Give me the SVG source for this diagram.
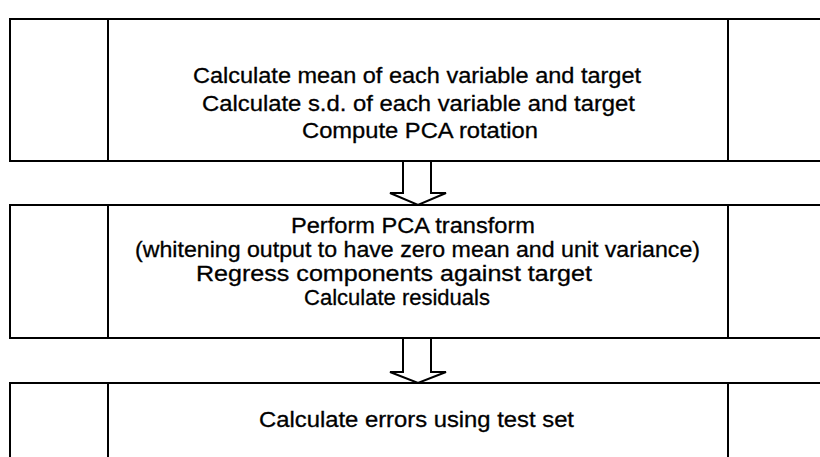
<svg xmlns="http://www.w3.org/2000/svg" width="820" height="457" viewBox="0 0 820 457">
<style>
.box{fill:#fff;stroke:#000;stroke-width:2}
.div{stroke:#000;stroke-width:2}
.t{font-family:"Liberation Sans Narrow","Liberation Sans",Arial,sans-serif;font-size:22px;fill:#000;stroke:#000;stroke-width:0.3}
.arr{fill:#fff;stroke:#000;stroke-width:2;stroke-linejoin:miter}
</style>
<rect width="820" height="457" fill="#fff"/>
<g id="connectors">
<path class="arr" d="M403,161 V193 H390 L418,205 L446,193 H431 V161"/>
<path class="arr" d="M403,338 V372 H390 L418,383 L446,372 H431 V338"/>
</g>
<g id="node1">
<rect class="box" x="10" y="19" width="830" height="142"/>
<line class="div" x1="108" y1="19" x2="108" y2="161"/>
<line class="div" x1="728" y1="19" x2="728" y2="161"/>
<text class="t" x="193" y="83" textLength="448" lengthAdjust="spacingAndGlyphs">Calculate mean of each variable and target</text>
<text class="t" x="202" y="111" textLength="433" lengthAdjust="spacingAndGlyphs">Calculate s.d. of each variable and target</text>
<text class="t" x="302" y="138" textLength="236" lengthAdjust="spacingAndGlyphs">Compute PCA rotation</text>
</g>
<g id="node2">
<rect class="box" x="10" y="205" width="830" height="133"/>
<line class="div" x1="108" y1="205" x2="108" y2="338"/>
<line class="div" x1="728" y1="205" x2="728" y2="338"/>
<text class="t" x="291" y="233" textLength="244" lengthAdjust="spacingAndGlyphs">Perform PCA transform</text>
<text class="t" x="135" y="257" textLength="565" lengthAdjust="spacingAndGlyphs">(whitening output to have zero mean and unit variance)</text>
<text class="t" x="196" y="281" textLength="396" lengthAdjust="spacingAndGlyphs">Regress components against target</text>
<text class="t" x="304" y="305" textLength="186" lengthAdjust="spacingAndGlyphs">Calculate residuals</text>
</g>
<g id="node3">
<rect class="box" x="10" y="383" width="830" height="100"/>
<line class="div" x1="108" y1="383" x2="108" y2="457"/>
<line class="div" x1="728" y1="383" x2="728" y2="457"/>
<text class="t" x="259" y="427" textLength="315" lengthAdjust="spacingAndGlyphs">Calculate errors using test set</text>
</g>
</svg>
